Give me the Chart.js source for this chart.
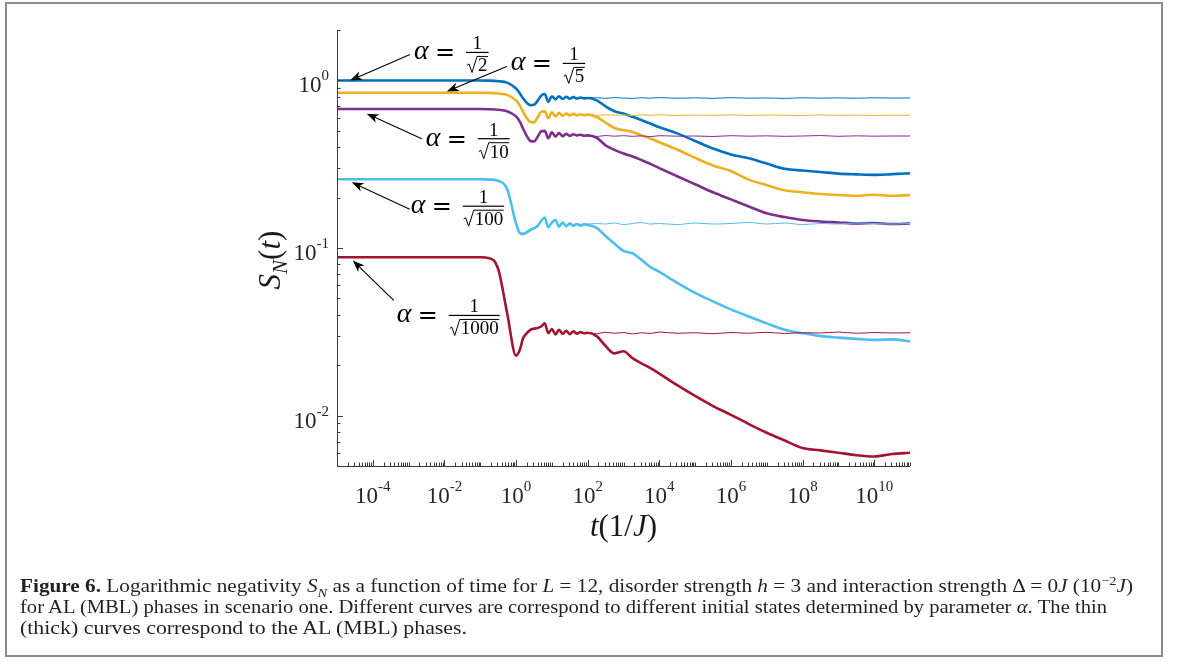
<!DOCTYPE html>
<html>
<head>
<meta charset="utf-8">
<script src="https://cdn.jsdelivr.net/npm/chart.js@4.4.1/dist/chart.umd.min.js"></script>
<style>
  html, body { margin: 0; padding: 0; background: #fff; }
  #wrap { position: relative; width: 1179px; height: 666px; overflow: hidden; }
  #frame { position: absolute; left: 5px; top: 2px; width: 1154px; height: 651px; border: 2px solid #8c8c8c; }
  #plot { position: absolute; left: 0; top: 0; }
  .cap { position: absolute; left: 20px; white-space: nowrap; font-family: 'Liberation Serif', serif;
         font-size: 18.5px; line-height: 21px; color: #231f20; transform-origin: 0 50%; }
  .cap sub, .cap sup { font-size: 0.68em; line-height: 0; }
</style>
</head>
<body>
<div id="wrap">
  <div id="frame"></div>
  <canvas id="plot" width="1179" height="666"></canvas>
  <div class="cap" style="top:576px" data-w="1113"><b>Figure 6.</b> Logarithmic negativity <i>S</i><sub><i>N</i></sub> as a function of time for <i>L</i> = 12, disorder strength <i>h</i> = 3 and interaction strength Δ = 0<i>J</i> (10<sup>−2</sup><i>J</i>)</div>
  <div class="cap" style="top:597px" data-w="1087">for AL (MBL) phases in scenario one. Different curves are correspond to different initial states determined by parameter <i>α</i>. The thin</div>
  <div class="cap" style="top:618px" data-w="447">(thick) curves correspond to the AL (MBL) phases.</div>
</div>
<script>
// time grid t (1/J), shared by all curves
const times = [1e-5, 1e-3, 1e-2, 0.0316, 0.1, 0.178, 0.316, 0.562,
  1, 1.26, 1.58, 2.0, 2.51, 3.16, 3.98, 5.01, 6.31, 7.94,
  10, 12.6, 15.8, 20.0, 25.1, 31.6, 39.8, 50.1, 63.1, 79.4,
  100,
  178, 316, 562, 1e3, 1.78e3, 3.16e3, 5.62e3, 1e4,
  3.16e4, 1e5, 3.16e5, 1e6, 3.16e6, 1e7, 3.16e7, 1e8, 3.16e8, 1e9, 3.16e9, 1e10, 3.16e10, 1e11];

// thick curves: MBL phase
const blueMBL = [1.0, 1.0, 1.0, 1.0, 1.0, 0.998, 0.99, 0.97,
  0.895, 0.84, 0.78, 0.735, 0.712, 0.715, 0.755, 0.81, 0.83, 0.745,
  0.805, 0.77, 0.805, 0.775, 0.80, 0.778, 0.795, 0.78, 0.79, 0.782,
  0.785,
  0.76, 0.70, 0.655, 0.634, 0.607, 0.58, 0.553, 0.525,
  0.483, 0.435, 0.392, 0.362, 0.343, 0.319, 0.297, 0.29, 0.284, 0.278, 0.275, 0.273, 0.276, 0.279];
const yellowMBL = [0.845, 0.845, 0.845, 0.845, 0.845, 0.843, 0.836, 0.82,
  0.76, 0.71, 0.65, 0.595, 0.565, 0.562, 0.60, 0.648, 0.655, 0.595,
  0.645, 0.61, 0.64, 0.615, 0.635, 0.618, 0.632, 0.62, 0.628, 0.621,
  0.625,
  0.605, 0.56, 0.52, 0.505, 0.493, 0.47, 0.45, 0.428,
  0.387, 0.345, 0.311, 0.288, 0.256, 0.237, 0.221, 0.215, 0.21, 0.207, 0.205, 0.208, 0.205, 0.207];
const purpleMBL = [0.675, 0.675, 0.675, 0.675, 0.675, 0.673, 0.668, 0.655,
  0.61, 0.57, 0.515, 0.465, 0.435, 0.432, 0.46, 0.497, 0.50, 0.452,
  0.49, 0.462, 0.485, 0.465, 0.48, 0.468, 0.477, 0.47, 0.474, 0.468,
  0.47,
  0.455, 0.41, 0.385, 0.366, 0.352, 0.335, 0.318, 0.30,
  0.268, 0.24, 0.215, 0.195, 0.177, 0.161, 0.153, 0.147, 0.144, 0.142, 0.14, 0.141, 0.139, 0.14];
const cyanMBL = [0.257, 0.257, 0.257, 0.257, 0.257, 0.256, 0.252, 0.225,
  0.14, 0.123, 0.121, 0.124, 0.128, 0.131, 0.135, 0.145, 0.152, 0.133,
  0.142, 0.147, 0.134, 0.142, 0.135, 0.14, 0.136, 0.139, 0.136, 0.138,
  0.137,
  0.132, 0.118, 0.106, 0.096, 0.093, 0.085, 0.077, 0.072,
  0.062, 0.054, 0.048, 0.043, 0.039, 0.0355, 0.0325, 0.031, 0.0298, 0.0292, 0.0287, 0.0283, 0.0285, 0.0277];
const redMBL = [0.088, 0.088, 0.088, 0.088, 0.088, 0.087, 0.075, 0.041,
  0.0228, 0.0245, 0.029, 0.031, 0.0325, 0.033, 0.0333, 0.034, 0.0355, 0.031,
  0.0328, 0.0305, 0.0325, 0.0308, 0.032, 0.0306, 0.0318, 0.0308, 0.0315, 0.031,
  0.0312,
  0.0298, 0.026, 0.0235, 0.0242, 0.022, 0.0205, 0.0192, 0.0178,
  0.0152, 0.0131, 0.0114, 0.0101, 0.0089, 0.0079, 0.0071, 0.0064, 0.0062, 0.006, 0.0058, 0.0057, 0.0059, 0.006];

// thin curves: AL phase
const blueAL = [1.0, 1.0, 1.0, 1.0, 1.0, 0.998, 0.99, 0.97,
  0.895, 0.84, 0.78, 0.735, 0.712, 0.716, 0.757, 0.81, 0.828, 0.748,
  0.803, 0.772, 0.802, 0.777, 0.797, 0.78, 0.792, 0.781, 0.789, 0.783,
  0.786,
  0.788, 0.782, 0.79, 0.785, 0.781, 0.788, 0.784, 0.79,
  0.783, 0.787, 0.782, 0.789, 0.784, 0.786, 0.781, 0.788, 0.784, 0.787, 0.783, 0.788, 0.785, 0.786];
const yellowAL = [0.845, 0.845, 0.845, 0.845, 0.845, 0.843, 0.836, 0.82,
  0.76, 0.71, 0.65, 0.595, 0.565, 0.563, 0.602, 0.646, 0.653, 0.598,
  0.642, 0.612, 0.637, 0.617, 0.632, 0.619, 0.629, 0.621, 0.626, 0.62,
  0.622,
  0.618, 0.624, 0.619, 0.623, 0.617, 0.622, 0.62, 0.624,
  0.618, 0.621, 0.619, 0.623, 0.618, 0.622, 0.62, 0.617, 0.623, 0.619, 0.621, 0.618, 0.62, 0.62];
const purpleAL = [0.675, 0.675, 0.675, 0.675, 0.675, 0.673, 0.668, 0.655,
  0.61, 0.57, 0.515, 0.465, 0.435, 0.433, 0.462, 0.495, 0.498, 0.455,
  0.487, 0.464, 0.482, 0.466, 0.478, 0.467, 0.474, 0.468, 0.471, 0.466,
  0.467,
  0.463, 0.469, 0.465, 0.468, 0.464, 0.467, 0.462, 0.468,
  0.465, 0.466, 0.463, 0.468, 0.465, 0.467, 0.464, 0.466, 0.469, 0.464, 0.467, 0.465, 0.466, 0.466];
const cyanAL = [0.257, 0.257, 0.257, 0.257, 0.257, 0.256, 0.252, 0.225,
  0.14, 0.124, 0.123, 0.126, 0.13, 0.133, 0.137, 0.146, 0.151, 0.135,
  0.142, 0.146, 0.136, 0.142, 0.137, 0.141, 0.138, 0.14, 0.138, 0.14,
  0.139,
  0.14, 0.139, 0.141, 0.138, 0.14, 0.142, 0.139, 0.14,
  0.138, 0.141, 0.139, 0.14, 0.142, 0.139, 0.141, 0.138, 0.14, 0.139, 0.141, 0.14, 0.139, 0.14];
const redAL = [0.088, 0.088, 0.088, 0.088, 0.088, 0.087, 0.075, 0.041,
  0.0228, 0.0247, 0.0293, 0.0313, 0.0327, 0.0331, 0.0334, 0.0338, 0.0352, 0.0312,
  0.0326, 0.0307, 0.0322, 0.031, 0.0318, 0.0308, 0.0316, 0.0309, 0.0313, 0.031,
  0.0312,
  0.0308, 0.0314, 0.031, 0.0313, 0.0307, 0.0312, 0.0309, 0.0315,
  0.031, 0.0312, 0.0308, 0.0313, 0.031, 0.0314, 0.0309, 0.0312, 0.0311, 0.0315, 0.031, 0.0313, 0.0311, 0.0312];

const seriesColors = ['#0072BD', '#EDB120', '#7E2F8E', '#4DBEEE', '#A2142F'];
const alphaDenoms = ['2', '5', '10', '100', '1000'];
const xTickExps = [-4, -2, 0, 2, 4, 6, 8, 10];
const yTickExps = [-2, -1, 0];

// arrow tips in data coords (t, S); tail and label offsets in px from the tip
const notes = [
  { tip: [2.31e-5, 1.0],  tail: [60, -26], label: [65, -28] },
  { tip: [0.0116, 0.86],  tail: [60, -25], label: [65, -28] },
  { tip: [6.76e-5, 0.633], tail: [55, 25], label: [60, 25] },
  { tip: [2.57e-5, 0.247], tail: [58, 27], label: [60, 24] },
  { tip: [2.75e-5, 0.0843], tail: [41, 40], label: [45, 55] }
];

const thin = [blueAL, yellowAL, purpleAL, cyanAL, redAL];
const thick = [blueMBL, yellowMBL, purpleMBL, cyanMBL, redMBL];
const toPts = vals => vals.map((v, i) => ({ x: times[i], y: v }));
const datasets = [];
thin.forEach((v, i) => datasets.push({ data: toPts(v), borderColor: seriesColors[i], borderWidth: 1 }));
thick.forEach((v, i) => datasets.push({ data: toPts(v), borderColor: seriesColors[i], borderWidth: 2.6 }));

const SERIF = '"Liberation Serif", serif';

function drawPow(ctx, x, base, exp, align) {
  ctx.font = '23px ' + SERIF;
  const w1 = ctx.measureText('10').width;
  ctx.font = '15px ' + SERIF;
  const sup = String(exp);
  const w2 = ctx.measureText(sup).width;
  let x0 = align === 'right' ? x - w1 - w2 : x - (w1 + w2) / 2;
  ctx.textAlign = 'left';
  ctx.font = '23px ' + SERIF;
  ctx.fillText('10', x0, base);
  ctx.font = '15px ' + SERIF;
  ctx.fillText(sup, x0 + w1, base - 12);
}

const axesPlugin = {
  id: 'axes',
  afterDatasetsDraw(chart) {
    const { ctx, chartArea: a, scales: { x, y } } = chart;
    ctx.save();
    ctx.strokeStyle = '#3a3a3a';
    ctx.fillStyle = '#262626';
    ctx.lineWidth = 1;
    ctx.beginPath();
    ctx.moveTo(a.left + 0.5, a.top);
    ctx.lineTo(a.left + 0.5, a.bottom + 0.5);
    ctx.lineTo(a.right, a.bottom + 0.5);
    ctx.stroke();
    ctx.textBaseline = 'alphabetic';
    // x ticks
    ctx.beginPath();
    for (let n = -5; n <= 11; n++) {
      for (let m = 1; m <= 9; m++) {
        const v = m * Math.pow(10, n);
        if (v <= x.min * 1.001 || v > x.max * 1.001) continue;
        const px = Math.round(x.getPixelForValue(v)) + 0.5;
        const major = m === 1 && xTickExps.includes(n);
        ctx.moveTo(px, a.bottom);
        ctx.lineTo(px, a.bottom - (major ? 6 : 3.5));
      }
    }
    // y ticks
    for (let n = -3; n <= 0; n++) {
      for (let m = 1; m <= 9; m++) {
        const v = m * Math.pow(10, n);
        if (v < y.min * 0.999 || v > y.max * 1.001) continue;
        const py = Math.round(y.getPixelForValue(v)) + 0.5;
        const major = m === 1 && yTickExps.includes(n);
        ctx.moveTo(a.left, py);
        ctx.lineTo(a.left + (major ? 6 : 3.5), py);
      }
    }
    ctx.stroke();
    xTickExps.forEach(n => drawPow(ctx, x.getPixelForValue(Math.pow(10, n)), 503, n, 'center'));
    yTickExps.forEach(n => drawPow(ctx, a.left - 8, y.getPixelForValue(Math.pow(10, n)) + 12, n, 'right'));

    // x title t(1/J)
    const parts = [['t', 'italic '], ['(1/', ''], ['J', 'italic '], [')', '']];
    ctx.fillStyle = '#1a1a1a';
    let tw = 0;
    parts.forEach(p => { ctx.font = p[1] + '31px ' + SERIF; tw += ctx.measureText(p[0]).width; });
    let cx = (a.left + a.right) / 2 - tw / 2;
    parts.forEach(p => { ctx.font = p[1] + '31px ' + SERIF; ctx.fillText(p[0], cx, 536); cx += ctx.measureText(p[0]).width; });

    // y title S_N(t)
    ctx.save();
    ctx.translate(270, 260);
    ctx.rotate(-Math.PI / 2);
    const yp = [['S', 'italic ', 31, 0], ['N', 'italic ', 21, 7], ['(', '', 31, 0], ['t', 'italic ', 31, 0], [')', '', 31, 0]];
    tw = 0;
    yp.forEach(p => { ctx.font = p[1] + p[2] + 'px ' + SERIF; tw += ctx.measureText(p[0]).width; });
    cx = -tw / 2;
    yp.forEach(p => { ctx.font = p[1] + p[2] + 'px ' + SERIF; ctx.fillText(p[0], cx, 10 + p[3]); cx += ctx.measureText(p[0]).width; });
    ctx.restore();
    ctx.restore();
  }
};

const notesPlugin = {
  id: 'notes',
  afterDraw(chart) {
    const { ctx, scales: { x, y } } = chart;
    ctx.save();
    ctx.strokeStyle = '#000';
    ctx.fillStyle = '#000';
    notes.forEach((nt, i) => {
      const tx = x.getPixelForValue(nt.tip[0]);
      const ty = y.getPixelForValue(nt.tip[1]);
      const sx = tx + nt.tail[0], sy = ty + nt.tail[1];
      const ang = Math.atan2(ty - sy, tx - sx);
      const hl = 12, hw = 4.5;
      // shaft
      ctx.lineWidth = 1.1;
      ctx.beginPath();
      ctx.moveTo(sx, sy);
      ctx.lineTo(tx - Math.cos(ang) * 7, ty - Math.sin(ang) * 7);
      ctx.stroke();
      // head
      ctx.save();
      ctx.translate(tx, ty);
      ctx.rotate(ang);
      ctx.beginPath();
      ctx.moveTo(0, 0);
      ctx.lineTo(-hl, -hw);
      ctx.lineTo(-hl * 0.72, 0);
      ctx.lineTo(-hl, hw);
      ctx.closePath();
      ctx.fill();
      ctx.restore();

      // label: alpha = 1 / sqrt(d)
      const lx = tx + nt.label[0];
      const by = ty + nt.label[1];
      ctx.textAlign = 'left';
      ctx.textBaseline = 'alphabetic';
      ctx.font = 'italic 28px ' + SERIF;
      ctx.fillText('α', lx - 1, by + 7);
      ctx.font = '24px "DejaVu Serif", serif';
      ctx.fillText('=', lx + 20, by + 8);
      const den = alphaDenoms[i];
      ctx.font = '19px ' + SERIF;
      const dw = ctx.measureText(den).width;
      const rw = 10;
      const barW = rw + dw + 3;
      const bx = lx + 51;
      ctx.fillRect(bx, by - 0.6, barW, 1.2);
      ctx.textAlign = 'center';
      ctx.fillText('1', bx + barW / 2, by - 3);
      ctx.textAlign = 'left';
      const db = by + 19;
      const rx = bx + 1;
      ctx.fillText(den, rx + rw + 1, db);
      ctx.lineWidth = 1;
      ctx.beginPath();
      ctx.moveTo(rx, db - 6);
      ctx.lineTo(rx + 2, db - 7.5);
      ctx.lineTo(rx + 5, db + 1);
      ctx.lineTo(rx + rw, db - 15);
      ctx.lineTo(rx + rw + dw + 1.5, db - 15);
      ctx.stroke();
    });
    ctx.restore();
  }
};

new Chart(document.getElementById('plot').getContext('2d'), {
  type: 'line',
  data: { datasets },
  options: {
    responsive: false,
    animation: false,
    layout: { padding: { left: 337, right: 269, top: 30, bottom: 200 } },
    plugins: { legend: { display: false }, tooltip: { enabled: false } },
    elements: { point: { radius: 0 }, line: { cubicInterpolationMode: 'monotone' } },
    scales: {
      x: { type: 'logarithmic', min: 1e-5, max: 1e11, display: false },
      y: { type: 'logarithmic', min: 0.005, max: 2, display: false }
    }
  },
  plugins: [axesPlugin, notesPlugin]
});

// fit caption lines to the measured widths
document.querySelectorAll('.cap').forEach(el => {
  const w = el.getBoundingClientRect().width;
  el.style.transform = 'scaleX(' + (Number(el.dataset.w) / w).toFixed(4) + ')';
});
</script>
</body>
</html>
